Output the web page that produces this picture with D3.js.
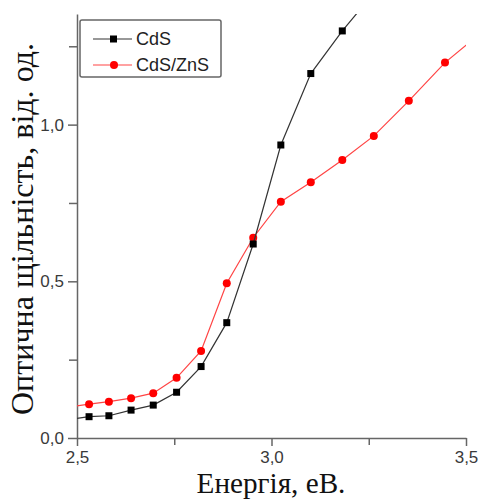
<!DOCTYPE html>
<html>
<head>
  <title>CdS vs CdS/ZnS</title>
  <style>
    body { margin: 0; background: #fff; }
    .axis path, .axis line { stroke: #666; stroke-width: 1.5; }
    .label { font-family: "Liberation Serif", "Times New Roman", serif; fill: #111; }
    .legend text { font-family: "Liberation Sans", Arial, sans-serif; font-size: 18px; fill: #222; }
  </style>
</head>
<body>
  <div id="chart"></div>
  <script src="https://cdnjs.cloudflare.com/ajax/libs/d3/7.8.5/d3.min.js"></script>
  <script>
    // Energies (eV) of the measured points
    const energy = [2.48, 2.531, 2.582, 2.639, 2.696, 2.756, 2.819, 2.885, 2.953, 3.024, 3.101, 3.182, 3.263, 3.353, 3.446, 3.54];
    // Optical density
    const cds = [0.059, 0.068, 0.071, 0.089, 0.105, 0.146, 0.228, 0.368, 0.619, 0.935, 1.163, 1.299, 1.42];
    const cdsZns = [0.099, 0.108, 0.116, 0.127, 0.143, 0.192, 0.278, 0.494, 0.639, 0.754, 0.816, 0.887, 0.964, 1.076, 1.198, 1.294];
    const xTicks = [2.5, 3.0, 3.5];
    const xMinor = [2.75, 3.25];
    const yTicks = [0, 0.5, 1.0];
    const yMinor = [0.25, 0.75, 1.25];
    const seriesNames = ["CdS", "CdS/ZnS"];

    const width = 479, height = 500;
    const plot = { left: 77, right: 466, top: 14, bottom: 438 };

    const svg = d3.select("#chart").append("svg")
      .attr("width", width)
      .attr("height", height);

    const x = d3.scaleLinear().domain([2.5, 3.5]).range([plot.left, plot.right]);
    const y = d3.scaleLinear().domain([0, 1.353]).range([plot.bottom, plot.top]);

    const fmt = d => d3.format(".1f")(d).replace(".", ",");

    // clip area
    svg.append("clipPath").attr("id", "clip")
      .append("rect")
      .attr("x", plot.left).attr("y", plot.top)
      .attr("width", plot.right - plot.left).attr("height", plot.bottom - plot.top);

    // minor ticks
    svg.append("g").attr("class", "axis")
      .attr("transform", "translate(0," + plot.bottom + ")")
      .call(d3.axisBottom(x).tickValues(xMinor).tickSize(7).tickFormat(""))
      .select(".domain").remove();
    svg.append("g").attr("class", "axis")
      .attr("transform", "translate(" + plot.left + ",0)")
      .call(d3.axisLeft(y).tickValues(yMinor).tickSize(8).tickFormat(""))
      .select(".domain").remove();

    // major axes
    const xAxis = svg.append("g").attr("class", "axis")
      .attr("transform", "translate(0," + plot.bottom + ")")
      .call(d3.axisBottom(x).tickValues(xTicks).tickSize(8).tickSizeOuter(0).tickPadding(5).tickFormat(fmt));
    const yAxis = svg.append("g").attr("class", "axis")
      .attr("transform", "translate(" + plot.left + ",0)")
      .call(d3.axisLeft(y).tickValues(yTicks).tickSize(9).tickSizeOuter(0).tickPadding(4).tickFormat(fmt));
    [xAxis, yAxis].forEach(a => a.selectAll("text")
      .style("font-family", "'Liberation Sans', Arial, sans-serif")
      .style("font-size", "17px")
      .style("fill", "#3a3a3a"));

    // series
    const line = d3.line().x(d => x(d[0])).y(d => y(d[1]));
    const g = svg.append("g").attr("clip-path", "url(#clip)");

    const redData = cdsZns.map((v, i) => [energy[i], v]);
    const blackData = cds.map((v, i) => [energy[i], v]);

    g.append("path").datum(redData)
      .attr("fill", "none").attr("stroke", "#ff4444").attr("stroke-width", 1.2)
      .attr("d", line);
    g.selectAll(".dot").data(redData).enter().append("circle")
      .attr("cx", d => x(d[0])).attr("cy", d => y(d[1]))
      .attr("r", 4).attr("fill", "#ff0000");

    g.append("path").datum(blackData)
      .attr("fill", "none").attr("stroke", "#333").attr("stroke-width", 1.2)
      .attr("d", line);
    g.selectAll(".sq").data(blackData).enter().append("rect")
      .attr("x", d => x(d[0]) - 3.5).attr("y", d => y(d[1]) - 3.5)
      .attr("width", 7).attr("height", 7).attr("fill", "#000");

    // legend
    const legend = svg.append("g").attr("class", "legend");
    legend.append("rect")
      .attr("x", 80).attr("y", 20).attr("width", 141).attr("height", 57)
      .attr("rx", 2).attr("fill", "#fff").attr("stroke", "#666").attr("stroke-width", 1.5);
    const items = [
      { name: seriesNames[0], color: "#333", mark: "#000", shape: "square", y: 39 },
      { name: seriesNames[1], color: "#ff4444", mark: "#ff0000", shape: "circle", y: 65 }
    ];
    items.forEach(it => {
      legend.append("line").attr("x1", 93).attr("x2", 132).attr("y1", it.y).attr("y2", it.y)
        .attr("stroke", it.color).attr("stroke-width", 1.2);
      if (it.shape === "square") {
        legend.append("rect").attr("x", 110).attr("y", it.y - 3.5).attr("width", 7).attr("height", 7).attr("fill", it.mark);
      } else {
        legend.append("circle").attr("cx", 114).attr("cy", it.y).attr("r", 4).attr("fill", it.mark);
      }
      legend.append("text").attr("x", 136).attr("y", it.y).attr("dy", "0.35em").text(it.name);
    });

    // axis titles
    const xt = svg.append("text").attr("class", "label")
      .attr("x", 271).attr("y", 493).attr("text-anchor", "middle")
      .style("font-size", "27px").text("Енергія, еВ.");
    const yt = svg.append("text").attr("class", "label")
      .attr("transform", "translate(33,229) rotate(-90)").attr("text-anchor", "middle")
      .style("font-size", "30px").text("Оптична щільність, від. од.");
    // fit title lengths to the reference
    [[xt, 149, 27], [yt, 373, 30]].forEach(([t, w, s]) => {
      const len = t.node().getComputedTextLength();
      t.style("font-size", (s * w / len).toFixed(1) + "px");
    });
  </script>
</body>
</html>
